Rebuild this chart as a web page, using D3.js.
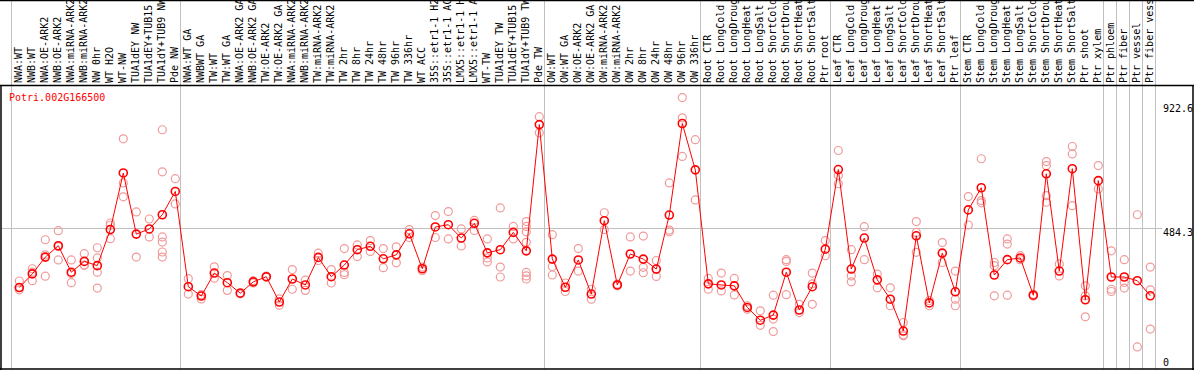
<!DOCTYPE html>
<html>
<head>
<meta charset="utf-8">
<script src="https://cdn.jsdelivr.net/npm/d3@7"></script>
<style>
  html, body { margin: 0; padding: 0; background: #fff; }
  svg { display: block; }
  text { font-family: "DejaVu Sans Mono", monospace; font-size: 10px; }
</style>
</head>
<body>
<div id="chart"></div>
<script>
// Expression profile of one gene across 88 samples: replicates as pale rings,
// means as red rings joined by a line. Sample groups split by grey rules.

const title = 'Potri.002G166500';

const categories = [
  'NWA:WT', 'NWB:WT', 'NWA:OE-ARK2', 'NWB:OE-ARK2', 'NWA:miRNA-ARK2', 'NWB:miRNA-ARK2',
  'NW 0hr', 'WT H2O', 'WT-NW', 'TUA1dEY NW', 'TUA1dEY+TUB15 NW', 'TUA1dY+TUB9 NW', 'Pde NW',
  'NWA:WT GA', 'NWBWT GA', 'TW:WT', 'TW:WT GA', 'NWA:OE-ARK2 GA', 'NWB:OE-ARK2 GA',
  'TW:OE-ARK2', 'TW:OE-ARK2 GA', 'NWA:miRNA-ARK2 GA', 'NWB:miRNA-ARK2 GA', 'TW:miRNA-ARK2',
  'TW:miRNA-ARK2 GA', 'TW 2hr', 'TW 8hr', 'TW 24hr', 'TW 48hr', 'TW 96hr', 'TW 336hr', 'WT ACC',
  '35S::etr1-1 H2O', '35S::etr1-1 ACC', 'LMX5::etr1-1 H2O', 'LMX5::etr1-1 ACC', 'WT-TW',
  'TUA1dEY TW', 'TUA1dEY+TUB15 TW', 'TUA1dY+TUB9 TW', 'Pde TW',
  'OW:WT', 'OW:WT GA', 'OW:OE-ARK2', 'OW:OE-ARK2 GA', 'OW:miRNA-ARK2', 'OW:miRNA-ARK2 GA',
  'OW 2hr', 'OW 8hr', 'OW 24hr', 'OW 48hr', 'OW 96hr', 'OW 336hr',
  'Root CTR', 'Root LongCold', 'Root LongDrought', 'Root LongHeat', 'Root LongSalt',
  'Root ShortCold', 'Root ShortDrought', 'Root ShortHeat', 'Root ShortSalt', 'Ptr root',
  'Leaf CTR', 'Leaf LongCold', 'Leaf LongDrought', 'Leaf LongHeat', 'Leaf LongSalt',
  'Leaf ShortCold', 'Leaf ShortDrought', 'Leaf ShortHeat', 'Leaf ShortSalt', 'Ptr leaf',
  'Stem CTR', 'Stem LongCold', 'Stem LongDrought', 'Stem LongHeat', 'Stem LongSalt',
  'Stem ShortCold', 'Stem ShortDrought', 'Stem ShortHeat', 'Stem ShortSalt', 'Ptr shoot', 'Ptr xylem',
  'Ptr phloem', 'Ptr fiber', 'Ptr vessel', 'Ptr fiber vessel'
];

const means = [
  276, 324, 383, 423, 330, 368, 353, 480, 679, 464, 482, 532, 614,
  279, 246, 327, 293, 256, 296, 314, 225, 306, 285, 382, 314, 355, 409, 421, 377, 391, 465, 342,
  489, 497, 450, 502, 398, 409, 470, 405, 849,
  376, 277, 373, 253, 511, 285, 394, 376, 341, 531, 853, 690,
  289, 285, 282, 206, 161, 179, 330, 197, 279, 411,
  691, 341, 450, 303, 235, 123, 458, 222, 397, 261,
  549, 627, 320, 374, 380, 249, 676, 334, 694, 233, 652,
  313, 313, 300, 247
];

const replicates = [
  [299, 268, 276], [342, 300, 330], [444, 391, 316], [476, 373, 420], [373, 293, 325],
  [395, 354, 355], [416, 380, 330, 274], [503, 495, 448], [799, 644, 595], [542, 383],
  [517, 454], [831, 683, 454, 436, 401, 383], [659, 570],
  [307, 253], [251, 236, 250], [349, 309], [318, 266], [258, 254], [300, 292], [316, 312],
  [214, 236], [339, 270], [302, 266], [397, 371], [339, 292], [413, 329, 321], [426, 385],
  [441, 403], [413, 346], [419, 363], [480, 452], [335, 348], [529, 452], [543, 447],
  [482, 422], [512, 477], [447, 380, 366], [556, 348, 313], [491, 447],
  [508, 491, 472, 435, 329, 317, 306], [877, 820],
  [462, 350, 320], [292, 262], [413, 334], [270, 235], [539, 480], [288, 282], [454, 334],
  [457, 347, 328], [371, 315, 340], [644, 478, 472], [944, 873, 737], [796, 584],
  [308, 270], [327, 264], [308, 250], [212, 200], [194, 143], [249, 165, 121],
  [374, 368, 251], [217, 188], [327, 289, 217], [441, 388],
  [758, 670, 641], [409, 317, 296], [490, 374], [323, 275], [275, 212], [153, 106, 110],
  [508, 470, 400], [212, 230], [434, 364], [334, 235, 212],
  [596, 496], [729, 582, 574], [364, 353, 247], [447, 429, 249], [388, 374], [252, 246],
  [719, 705, 599, 576], [359, 317], [772, 746, 564], [282, 247, 173], [705, 623],
  [405, 270, 262], [374, 294, 274], [532, 67], [348, 268, 130]
];

// index of the first sample in each group (last entry closes the final group)
const groupStarts = [0, 13, 41, 53, 63, 73, 84, 85, 86, 87, 88];

const yTicks = [922.6, 484.3, 0];

const W = 1194, H = 370;
const headerBottom = 85;
const plotLeft = 11, plotRight = 1155, plotBottom = 369;

const svg = d3.select('#chart').append('svg')
  .attr('width', W).attr('height', H);

const x = d3.scaleBand().domain(d3.range(categories.length)).range([plotLeft, plotRight]);
const cx = (i) => x(i) + x.bandwidth() / 2 + 1.8;
const y = d3.scaleLinear().domain([0, 922.6]).range([366, 103.7]);

// grey rule at the middle tick
svg.append('line')
  .attr('x1', 1).attr('x2', 1162).attr('y1', Math.round(y(484.3)) + 0.5).attr('y2', Math.round(y(484.3)) + 0.5)
  .attr('stroke', '#c0c0c0').attr('stroke-width', 1);

// group separators run through the header too
svg.append('g').selectAll('line').data(groupStarts).join('line')
  .attr('x1', (d) => Math.round(d === categories.length ? plotRight : x(d)) + 0.5)
  .attr('x2', (d) => Math.round(d === categories.length ? plotRight : x(d)) + 0.5)
  .attr('y1', 0).attr('y2', plotBottom)
  .attr('stroke', '#c0c0c0').attr('stroke-width', 1);

// rotated sample names
svg.append('g').selectAll('text').data(categories).join('text')
  .attr('transform', (d, i) => `translate(${cx(i) + 3},${headerBottom - 2}) rotate(-90)`)
  .attr('fill', '#000')
  .text((d) => d);

// frame
const frame = svg.append('g').attr('stroke', '#000').attr('stroke-width', 1.5).attr('fill', 'none');
frame.append('line').attr('x1', 0).attr('x2', W).attr('y1', 0.5).attr('y2', 0.5);
frame.append('line').attr('x1', 0).attr('x2', W).attr('y1', headerBottom + 0.5).attr('y2', headerBottom + 0.5);
frame.append('line').attr('x1', 0).attr('x2', W).attr('y1', plotBottom).attr('y2', plotBottom);
frame.append('line').attr('x1', 1).attr('x2', 1).attr('y1', headerBottom).attr('y2', H);
frame.append('line').attr('x1', 1193).attr('x2', 1193).attr('y1', headerBottom).attr('y2', H);

// title
svg.append('text')
  .attr('x', 9).attr('y', 101)
  .attr('fill', '#ff0000')
  .text(title);

// y tick labels on the right
svg.append('g').selectAll('text').data(yTicks).join('text')
  .attr('x', 1163)
  .attr('y', (d) => Math.min(y(d) + 8, 366))
  .attr('fill', '#000')
  .text((d) => d);

// replicates
const reps = replicates.flatMap((r, i) => r.map((v) => ({ i, v })));
svg.append('g').selectAll('circle').data(reps).join('circle')
  .attr('cx', (d) => cx(d.i)).attr('cy', (d) => y(d.v)).attr('r', 4)
  .attr('fill', 'none').attr('stroke', '#f09a9a').attr('stroke-width', 1.2);

// mean line
svg.append('path')
  .datum(means)
  .attr('d', d3.line().x((d, i) => cx(i)).y((d) => y(d)))
  .attr('fill', 'none').attr('stroke', '#ff0000').attr('stroke-width', 1);

// mean markers
svg.append('g').selectAll('circle').data(means).join('circle')
  .attr('cx', (d, i) => cx(i)).attr('cy', (d) => y(d)).attr('r', 4)
  .attr('fill', 'none').attr('stroke', '#ff0000').attr('stroke-width', 1.6);
</script>
</body>
</html>
